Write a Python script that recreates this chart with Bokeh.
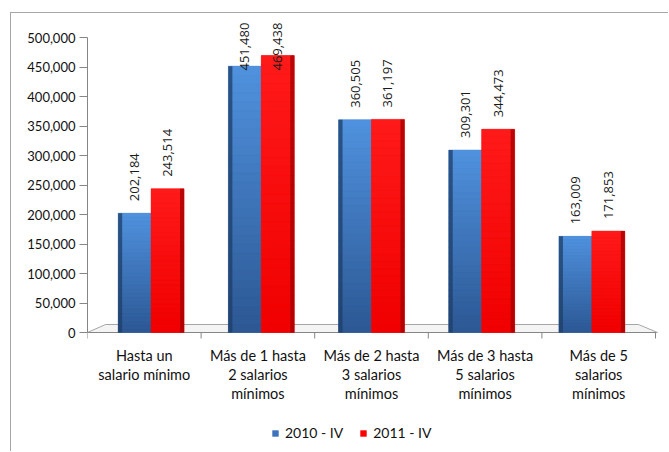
import numpy as np
from bokeh.plotting import figure
from bokeh.models import (ColumnDataSource, FixedTicker, NumeralTickFormatter,
                          Legend, LegendItem, Range1d)
from bokeh.core.properties import value
from bokeh.embed import file_html
from bokeh.resources import INLINE

# ---------------- data ----------------
categories = [
    ["Hasta un", "salario mínimo"],
    ["Más de 1 hasta", "2 salarios", "mínimos"],
    ["Más de 2 hasta", "3 salarios", "mínimos"],
    ["Más de 3 hasta", "5 salarios", "mínimos"],
    ["Más de 5", "salarios", "mínimos"],
]
series_names = ["2010 - IV", "2011 - IV"]
values_2010 = [202184, 451480, 360505, 309301, 163009]
values_2011 = [243514, 469438, 361197, 344473, 171853]
y_ticks = [0, 50000, 100000, 150000, 200000, 250000, 300000, 350000, 400000, 450000, 500000]

# ---------------- layout (page pixels) ----------------
W, H = 658, 439
ORIGIN_X, ORIGIN_Y = 11, 13
FRAME_L, FRAME_T, FRAME_R, FRAME_B = 87, 16, 665, 450
AXIS_R = 655
ZERO_Y, TOP_Y = 332, 37

n = len(categories)
px_x = n / (AXIS_R - FRAME_L)
px_y = y_ticks[-1] / (ZERO_Y - TOP_Y)
x_lo = 0.5
x_hi = 0.5 + (FRAME_R - FRAME_L) * px_x
y_hi = y_ticks[-1] + (TOP_Y - FRAME_T) * px_y
y_lo = -(FRAME_B - ZERO_Y) * px_y
x_end = n + 0.5

p = figure(width=W, height=H, x_range=Range1d(x_lo, x_hi), y_range=Range1d(y_lo, y_hi),
           output_backend="svg", toolbar_location=None,
           min_border_left=FRAME_L - ORIGIN_X, min_border_top=FRAME_T - ORIGIN_Y,
           min_border_right=W - (FRAME_R - ORIGIN_X), min_border_bottom=H - (FRAME_B - ORIGIN_Y))
p.margin = (12, 0, 0, 10)
p.styles = {"border-left": "1px solid #a6a6a6", "border-top": "1px solid #a6a6a6"}
p.outline_line_color = None
p.xgrid.visible = False
p.ygrid.visible = False
p.xaxis.visible = False

# y axis
p.yaxis.ticker = FixedTicker(ticks=y_ticks)
p.yaxis.bounds = (0, y_ticks[-1])
p.yaxis.formatter = NumeralTickFormatter(format="0,0")
p.yaxis.axis_line_color = "#868686"
p.yaxis.major_tick_line_color = "#868686"
p.yaxis.major_tick_out = 8
p.yaxis.major_tick_in = 0
p.yaxis.minor_tick_line_color = None
p.yaxis.major_label_standoff = 4
p.yaxis.major_label_text_font = "Lato"
p.yaxis.major_label_text_font_size = "13px"
p.yaxis.major_label_text_color = "#111111"

# ---------------- floor (3D base) ----------------
depth = 8 * px_y
p.patch(x=[x_lo, x_end + 2 * px_x, x_end - 17 * px_x, x_lo + 18 * px_x],
        y=[0, 0, depth, depth],
        fill_color="#f4f4f4", line_color="#a6a6a6", line_width=1)

# category axis line and boundary ticks
boundaries = [i + 0.5 for i in range(n + 1)]
p.segment(x0=[x_lo], y0=[0], x1=[x_end], y1=[0], line_color="#868686", line_width=1)
p.segment(x0=boundaries, y0=[0] * len(boundaries), x1=boundaries,
          y1=[-6 * px_y] * len(boundaries), line_color="#868686", line_width=1)

# ---------------- bars with gradient ----------------
centers = np.arange(1, n + 1, dtype=float)
shift = -(centers - (n + 1) / 2) * 0.03     # slight perspective shift
bw = 0.29

def hex2rgb(h):
    h = h.lstrip("#")
    return tuple(int(h[i:i + 2], 16) for i in (0, 2, 4))

def lerp(c1, c2, t):
    a, b = hex2rgb(c1), hex2rgb(c2)
    return "#%02x%02x%02x" % tuple(int(round(a[k] + (b[k] - a[k]) * t)) for k in range(3))

NB = 30
series = [
    (values_2010, -bw / 2, "#2c5793", "#5092de", "#1f3d66", "left", "#3c73bb"),
    (values_2011, +bw / 2, "#f00000", "#ff1a1a", "#a00000", "right", "#ff0000"),
]
legend_renderers = []
for vals, dx, c_bot, c_top, c_edge, edge_side, c_leg in series:
    vals = np.array(vals, dtype=float)
    xc = centers + shift + dx
    base = p.vbar(x=xc, top=vals, width=bw, bottom=0, fill_color=c_leg, line_color=None)
    legend_renderers.append(base)
    L, R, B, T, C = [], [], [], [], []
    for i in range(NB):
        t = (i + 0.5) / NB
        col = lerp(c_bot, c_top, t)
        for k in range(n):
            L.append(xc[k] - bw / 2); R.append(xc[k] + bw / 2)
            B.append(vals[k] * i / NB); T.append(vals[k] * (i + 1) / NB)
            C.append(col)
    p.quad(left=L, right=R, bottom=B, top=T, fill_color=C, line_color=C, line_width=0.5)
    ew = 4 * px_x
    if edge_side == "left":
        el, er = xc - bw / 2, xc - bw / 2 + ew
    else:
        el, er = xc + bw / 2 - ew, xc + bw / 2
    p.quad(left=el, right=er, bottom=0, top=vals, fill_color=c_edge, line_color=None, fill_alpha=0.75)

    # value labels (rotated)
    gap = 12 * px_y
    cap = y_ticks[-1] - 56000
    ly = np.minimum(vals + gap, cap)
    src = ColumnDataSource(dict(x=xc, y=ly, t=["{:,}".format(int(v)) for v in vals]))
    p.text(x="x", y="y", text="t", source=src, angle=np.pi / 2,
           text_align="left", text_baseline="middle",
           text_font=value("Open Sans"), text_font_size="13px", text_color="#1a1a1a")

# ---------------- category labels ----------------
cx, cy, ct = [], [], []
for k, lines in enumerate(categories):
    for j, line in enumerate(lines):
        cx.append(centers[k]); cy.append(-(22.5 + 19 * j) * px_y); ct.append(line)
csrc = ColumnDataSource(dict(x=cx, y=cy, t=ct))
p.text(x="x", y="y", text="t", source=csrc, text_align="center",
       text_baseline="middle", text_font=value("Lato"), text_font_size="14.5px",
       text_color="#111111")

# ---------------- legend ----------------
legend = Legend(items=[LegendItem(label=series_names[0], renderers=[legend_renderers[0]]),
                       LegendItem(label=series_names[1], renderers=[legend_renderers[1]])],
                orientation="horizontal", location=(184, 9),
                glyph_width=8, glyph_height=8, label_standoff=6, spacing=16,
                padding=0, margin=0, border_line_color=None, background_fill_alpha=0,
                label_text_font="Lato", label_text_font_size="14px", label_text_color="#111111")
p.add_layout(legend, "center")

open("out.html", "w").write(file_html(p, INLINE))
